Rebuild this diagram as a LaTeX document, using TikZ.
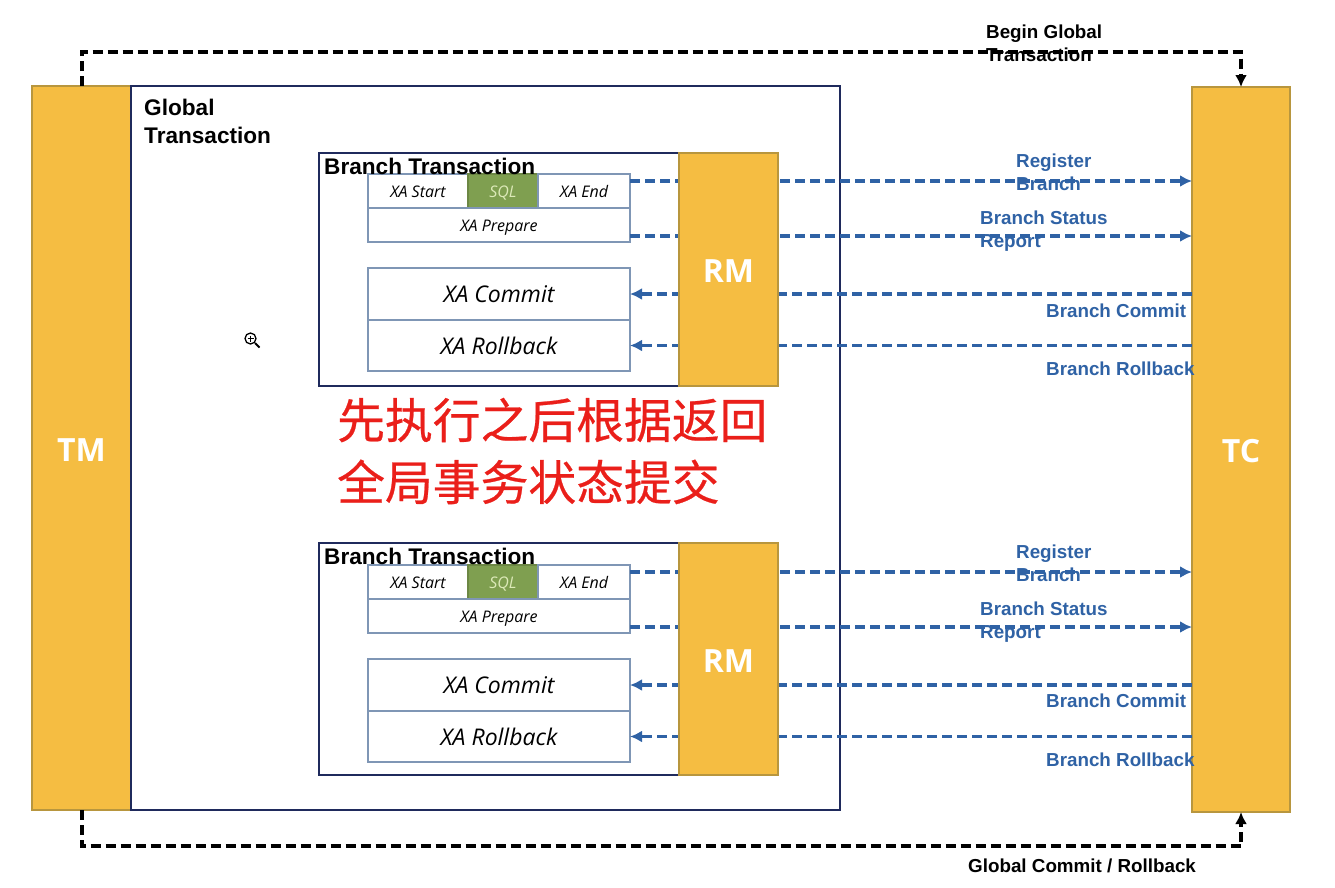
\documentclass[tikz,border=0pt]{standalone}
\usepackage{fontspec}
\setmainfont{Liberation Sans}
\newfontfamily\cellfont{Open Sans}
\newfontfamily\cjkfont[FakeBold=0.5]{Noto Sans CJK SC}
\usetikzlibrary{positioning,arrows.meta}

\definecolor{barfill}{HTML}{F5BD42}
\definecolor{bardraw}{HTML}{B8963E}
\definecolor{boxnavy}{HTML}{1F2A5C}
\definecolor{celldraw}{HTML}{7F96B5}
\definecolor{sqlfill}{HTML}{7F9F50}
\definecolor{sqltext}{HTML}{DCE9B8}
\definecolor{flowblue}{HTML}{2F62A5}
\definecolor{notered}{HTML}{EA1F1A}

\tikzset{
  bar/.style={draw=bardraw, fill=barfill, line width=1.2pt, outer sep=0pt, inner sep=0pt,
    text=white, text height=26pt, text depth=0pt, font=\cellfont\bfseries\fontsize{32}{36}\selectfont},
  outerbox/.style={draw=boxnavy, line width=1.6pt, outer sep=0pt, inner sep=0pt},
  smallcell/.style={draw=celldraw, line width=1.6pt, outer sep=0pt, inner sep=0pt, minimum height=34pt,
    text height=13.4pt, text depth=0pt, font=\cellfont\itshape\fontsize{16}{18}\selectfont},
  bigcell/.style={draw=celldraw, line width=1.6pt, outer sep=0pt, inner sep=0pt, minimum width=262pt,
    font=\cellfont\itshape\fontsize{23}{26}\selectfont},
  sqlcell/.style={smallcell, draw=sqlfill!85!black, fill=sqlfill, text=sqltext, minimum width=70pt},
  flow/.style={draw=flowblue, line width=3.5pt, dash pattern=on 10pt off 5pt},
  flowtip/.style={flow, -{Latex[length=12pt,width=12pt]}},
  ctrl/.style={draw=black, line width=4pt, dash pattern=on 10pt off 5pt, -{Latex[length=12pt,width=12pt]}},
  blacklabel/.style={anchor=west, align=left, inner sep=0pt, font=\bfseries\fontsize{22.6}{28}\selectfont},
  ctrllabel/.style={anchor=west, align=left, inner sep=0pt, font=\bfseries\fontsize{18.8}{23}\selectfont},
  flowlabel/.style={ctrllabel, text=flowblue},
  note/.style={anchor=west, align=left, inner sep=0pt, text=notered,
    font=\cjkfont\fontsize{47.8}{62}\selectfont}
}

\begin{document}
\begin{tikzpicture}[x=1pt, y=-1pt]
  \useasboundingbox (0,0) rectangle (1335,887);
  % Nodes
  % the two long bars and the frame between them
  \node[bar, minimum width=99pt, minimum height=724pt] (tm) at (81.5,448) {TM};
  \node[bar, minimum width=98pt, minimum height=725pt] (tc) at (1241,449.5) {TC};
  \node[outerbox, minimum width=709pt, minimum height=724pt, right=0pt of tm] (global) {};
  \coordinate (beginleft) at (tm.north |- 0,52);
  \coordinate (beginright) at (tc.north |- 0,52);
  \coordinate (endleft) at (tm.south |- 0,846);
  \coordinate (endright) at (tc.south |- 0,846);
  % first branch
  \node[outerbox, minimum width=360pt, minimum height=233pt] (branch1) at (499,269.5) {};
  \node[smallcell, minimum width=100pt] (xastart1) at (418,191) {XA Start};
  \node[sqlcell, right=0pt of xastart1] (sql1) {SQL};
  \node[smallcell, minimum width=92pt, right=0pt of sql1] (xaend1) {XA End};
  \node[smallcell, minimum width=262pt, below right=0pt and 0pt of xastart1.south west] (prepare1) {XA Prepare};
  \node[bigcell, minimum height=52pt] (commit1) at (499,294) {XA Commit};
  \node[bigcell, minimum height=51pt, below=0pt of commit1] (rollback1) {XA Rollback};
  % second branch
  \node[outerbox, minimum width=360pt, minimum height=232pt] (branch2) at (499,659) {};
  \node[smallcell, minimum width=100pt] (xastart2) at (418,582) {XA Start};
  \node[sqlcell, right=0pt of xastart2] (sql2) {SQL};
  \node[smallcell, minimum width=92pt, right=0pt of sql2] (xaend2) {XA End};
  \node[smallcell, minimum width=262pt, below right=0pt and 0pt of xastart2.south west] (prepare2) {XA Prepare};
  \node[bigcell, minimum height=52pt] (commit2) at (499,685) {XA Commit};
  \node[bigcell, minimum height=51pt, below=0pt of commit2] (rollback2) {XA Rollback};
  % edges
  \draw[flowtip] ([yshift=10pt]xaend1.east) -- ([yshift=10pt]xaend1.east -| tc.west);
  \draw[flowtip] ([yshift=-11pt]prepare1.east) -- ([yshift=-11pt]prepare1.east -| tc.west);
  \draw[flowtip] (commit1.east -| tc.west) -- (commit1.east);
  \draw[flowtip] (rollback1.east -| tc.west) -- (rollback1.east);
  \draw[flowtip] ([yshift=10pt]xaend2.east) -- ([yshift=10pt]xaend2.east -| tc.west);
  \draw[flowtip] ([yshift=-11pt]prepare2.east) -- ([yshift=-11pt]prepare2.east -| tc.west);
  \draw[flowtip] (commit2.east -| tc.west) -- (commit2.east);
  \draw[flowtip] (rollback2.east -| tc.west) -- (rollback2.east);
  \draw[ctrl] (tm.north) -- (beginleft) -- (beginright) -- (tc.north);
  \draw[ctrl] (tm.south) -- (endleft) -- (endright) -- (tc.south);
  % RM goes over the dashed lines
  \node[bar, minimum width=99pt, minimum height=233pt, right=0pt of branch1] (rm1) {RM};
  \node[bar, minimum width=99pt, minimum height=232pt, right=0pt of branch2] (rm2) {RM};
  % texts
  \node[blacklabel] (globallabel) at (144,121) {Global\\Transaction};
  \node[blacklabel] (branchlabel1) at (324,166) {Branch Transaction};
  \node[blacklabel] (branchlabel2) at (324,556) {Branch Transaction};
  \node[ctrllabel] (beginlabel) at (986,43.5) {Begin Global\\Transaction};
  \node[ctrllabel] (endlabel) at (968,866) {Global Commit / Rollback};
  \node[flowlabel] (register1) at (1016,172.5) {Register\\Branch};
  \node[flowlabel] (status1) at (980,231) {Branch Status\\Report};
  \node[flowlabel] (bcommit1) at (1046,311) {Branch Commit};
  \node[flowlabel] (brollback1) at (1046,369) {Branch Rollback};
  \node[flowlabel] (register2) at (1016,563) {Register\\Branch};
  \node[flowlabel] (status2) at (980,622) {Branch Status\\Report};
  \node[flowlabel] (bcommit2) at (1046,701) {Branch Commit};
  \node[flowlabel] (brollback2) at (1046,760) {Branch Rollback};
  \node[note] (notelabel) at (337,451) {先执行之后根据返回\\全局事务状态提交};
  % cursor
  \draw[line width=1.3pt] (250.5,338.5) circle (5.5);
  \draw[line width=2pt] (255,343) -- (259.5,347.5);
  \draw[line width=1pt] (247.5,338.5) -- (253.5,338.5) (250.5,335.5) -- (250.5,341.5);
\end{tikzpicture}
\end{document}
